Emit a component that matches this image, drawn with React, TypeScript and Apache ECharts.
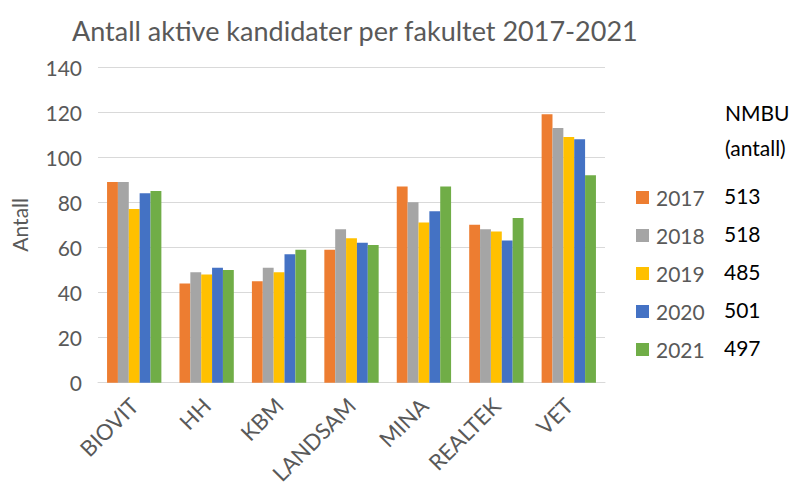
import React, { useEffect, useRef } from "react";
import * as echarts from "echarts";

const categories = ["BIOVIT", "HH", "KBM", "LANDSAM", "MINA", "REALTEK", "VET"];
const years = ["2017", "2018", "2019", "2020", "2021"];
const colors = ["#ED7D31", "#A5A5A5", "#FFC000", "#4472C4", "#70AD47"];
const v2017 = [89, 44, 45, 59, 87, 70, 119];
const v2018 = [89, 49, 51, 68, 80, 68, 113];
const v2019 = [77, 48, 49, 64, 71, 67, 109];
const v2020 = [84, 51, 57, 62, 76, 63, 108];
const v2021 = [85, 50, 59, 61, 87, 73, 92];
const nmbuTotals = [513, 518, 485, 501, 497];
const seriesValues = [v2017, v2018, v2019, v2020, v2021];

const FONT = "Lato";
const GRAY = "#595959";

export default function App() {
  const ref = useRef<HTMLDivElement>(null);
  useEffect(() => {
    if (!ref.current) return;
    const chart = echarts.init(ref.current, null, { renderer: "svg" });
    chart.setOption({
      animation: false,
      backgroundColor: "#ffffff",
      title: {
        text: "Antall aktive kandidater per fakultet 2017-2021",
        left: 67,
        top: 12,
        textStyle: { fontFamily: FONT, fontSize: 27, fontWeight: "normal", color: GRAY },
      },
      grid: { left: 98, right: 199, top: 67, bottom: 103 },
      legend: {
        orient: "vertical",
        left: 631,
        top: 180,
        itemWidth: 13,
        itemHeight: 13,
        itemGap: 13,
        icon: "rect",
        data: years,
        formatter: (name: string) => {
          const i = years.indexOf(name);
          return `{y|${name}}{n|${nmbuTotals[i]}}`;
        },
        textStyle: {
          fontFamily: FONT,
          rich: {
            y: { fontFamily: FONT, fontSize: 21, color: GRAY, width: 68, lineHeight: 24, padding: [0, 0, 0, 2] },
            n: { fontFamily: FONT, fontSize: 21, color: "#000000", lineHeight: 24, padding: [0, 0, 4, 0] },
          },
        },
      },
      graphic: [
        {
          type: "text",
          left: 725,
          top: 95,
          style: { text: "NMBU\n(antall)", font: `21px ${FONT}`, fill: "#000000", lineHeight: 35 },
        },
      ],
      xAxis: {
        type: "category",
        data: categories,
        axisLine: { lineStyle: { color: "#D9D9D9", width: 1 } },
        axisTick: { show: false },
        axisLabel: {
          rotate: 45,
          interval: 0,
          margin: 19,
          fontFamily: FONT,
          fontSize: 22,
          color: GRAY,
        },
      },
      yAxis: {
        type: "value",
        min: 0,
        max: 140,
        interval: 20,
        name: "Antall",
        nameLocation: "middle",
        nameGap: 68,
        nameTextStyle: { fontFamily: FONT, fontSize: 21, color: GRAY },
        axisLine: { show: false },
        axisTick: { show: false },
        splitLine: { lineStyle: { color: "#D9D9D9", width: 1 } },
        axisLabel: { fontFamily: FONT, fontSize: 21, color: GRAY, margin: 16 },
      },
      series: years.map((y, i) => ({
        name: y,
        type: "bar",
        data: seriesValues[i],
        itemStyle: { color: colors[i] },
        barGap: "0%",
        barCategoryGap: "25%",
      })),
    });
    return () => chart.dispose();
  }, []);
  return <div ref={ref} style={{ width: 804, height: 487, position: "absolute", left: 0, top: 0 }} />;
}
